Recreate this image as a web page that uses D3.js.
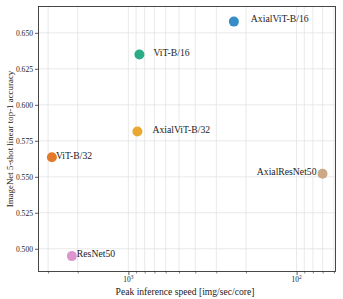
<!DOCTYPE html>
<html><head><meta charset="utf-8">
<script src="https://cdn.jsdelivr.net/npm/d3@7"></script>
<style>
body{margin:0;background:#fff;}
text{font-family:"Liberation Serif","DejaVu Serif",serif;fill:#222;}
</style></head>
<body><svg id="c" width="343" height="299"></svg>
<script>
const models = ["AxialViT-B/16","ViT-B/16","AxialViT-B/32","ViT-B/32","AxialResNet50","ResNet50"];
const speed = [236, 860, 884, 2850, 70.1, 2168];
const accuracy = [0.6578, 0.6349, 0.5815, 0.5636, 0.5521, 0.4949];
const colors = ["#1f7fc0","#13a37a","#e79f1c","#df6c12","#c9a07a","#d98bc8"];
const yTicks = [0.500,0.525,0.550,0.575,0.600,0.625,0.650];
const xMajor = [1000,100];
const xMajorExp = ["3","2"];
const xMinor = [3000,2000,900,800,700,600,500,400,300,200,90,80,70,60];
// label placement offsets (px)
const labelDx = [17,14,15,4,-6,5];
const labelDy = [-3,-2,-2,-2,-2,-2];
const labelAnchor = ["start","start","start","start","end","start"];

const svg = d3.select("#c");
const L=38.5,R=335.5,T=6.5,B=271.5;
const x = d3.scaleLog().domain([3423,58.7]).range([L,R]);
const y = d3.scaleLinear().domain([0.4842,0.6683]).range([B,T]);

const grid = svg.append("g");
grid.selectAll(".gx").data(xMinor.concat(xMajor)).join("line")
  .attr("x1",d=>x(d)).attr("x2",d=>x(d)).attr("y1",T).attr("y2",B)
  .attr("stroke","#e3e3e3").attr("stroke-width",0.8);
grid.selectAll(".gy").data(yTicks).join("line")
  .attr("x1",L).attr("x2",R).attr("y1",d=>y(d)).attr("y2",d=>y(d))
  .attr("stroke","#e3e3e3").attr("stroke-width",0.8);

// y axis
const yAxis = d3.axisLeft(y).tickValues(yTicks).tickFormat(d3.format(".3f")).tickSize(3.5).tickPadding(2);
const gy = svg.append("g").attr("transform",`translate(${L},0)`).call(yAxis);
gy.select(".domain").remove();
gy.selectAll("line").attr("stroke","#333").attr("stroke-width",0.8);
gy.selectAll("text").attr("font-size","7.6px").attr("font-family","Liberation Serif").attr("fill","#222");

// x axis major
const xAxis = d3.axisBottom(x).tickValues(xMajor).tickFormat("").tickSize(3.5);
const gx = svg.append("g").attr("transform",`translate(0,${B})`).call(xAxis);
gx.select(".domain").remove();
gx.selectAll("line").attr("stroke","#333").attr("stroke-width",0.8);
const xAxisMinor = d3.axisBottom(x).tickValues(xMinor).tickFormat("").tickSize(2);
const gxm = svg.append("g").attr("transform",`translate(0,${B})`).call(xAxisMinor);
gxm.select(".domain").remove();
gxm.selectAll("line").attr("stroke","#333").attr("stroke-width",0.6);
xMajor.forEach((v,i)=>{
  const t = svg.append("text").attr("x",x(v)).attr("y",B+10.5).attr("text-anchor","middle").attr("font-size","7.4px");
  t.append("tspan").text("10");
  t.append("tspan").attr("dy",-3).attr("font-size","5.3px").text(xMajorExp[i]);
});

// frame
svg.append("rect").attr("x",L).attr("y",T).attr("width",R-L).attr("height",B-T)
  .attr("fill","none").attr("stroke","#333").attr("stroke-width",0.9);

// points
svg.selectAll(".pt").data(models).join("circle")
  .attr("cx",(d,i)=>x(speed[i])).attr("cy",(d,i)=>y(accuracy[i])).attr("r",5)
  .attr("fill",(d,i)=>colors[i]).attr("fill-opacity",0.9);
svg.selectAll(".lb").data(models).join("text")
  .attr("x",(d,i)=>x(speed[i])+labelDx[i]).attr("y",(d,i)=>y(accuracy[i])+labelDy[i])
  .attr("dy","0.35em").attr("text-anchor",(d,i)=>labelAnchor[i])
  .attr("font-size","9.7px").text(d=>d);

// axis titles
svg.append("text").attr("x",(L+R)/2-2).attr("y",294.5).attr("text-anchor","middle")
  .attr("font-size","9.6px").text("Peak inference speed [img/sec/core]");
svg.append("text").attr("transform",`translate(10,${(T+B)/2}) rotate(-90)`).attr("text-anchor","middle")
  .attr("dy","0.35em").attr("font-size","8.9px").text("ImageNet 5-shot linear top-1 accuracy");
</script></body></html>
